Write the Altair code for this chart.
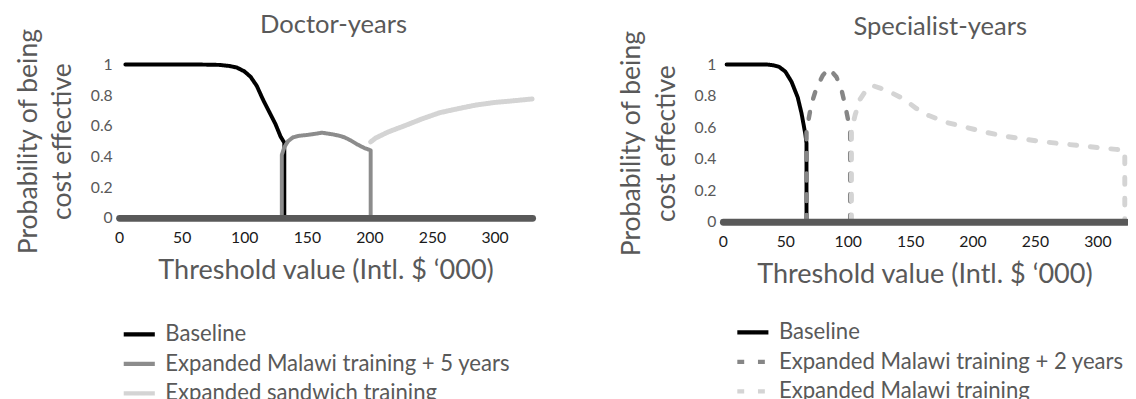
import altair as alt
import pandas as pd

# ---------------- Data ----------------
# Left panel: Doctor-years
doc_names = ["Baseline", "Expanded Malawi training + 5 years", "Expanded sandwich training"]
doc_base_x = [5, 20, 40, 60, 80, 88, 94, 100, 105, 110, 115, 120, 125, 129, 132, 132]
doc_base_y = [1, 1, 1, 1, 0.997, 0.99, 0.98, 0.955, 0.92, 0.86, 0.77, 0.69, 0.61, 0.53, 0.49, 0]
doc_mal5_x = [130, 130, 132, 135, 139, 144, 150, 157, 162, 166, 170, 175, 180, 185, 190, 196, 201, 201]
doc_mal5_y = [0, 0.41, 0.46, 0.5, 0.525, 0.535, 0.54, 0.548, 0.555, 0.55, 0.545, 0.537, 0.525, 0.505, 0.48, 0.455, 0.44, 0]
doc_sand_x = [201, 205, 215, 228, 242, 256, 270, 285, 300, 315, 330]
doc_sand_y = [0.495, 0.52, 0.56, 0.6, 0.645, 0.685, 0.71, 0.735, 0.752, 0.763, 0.775]

# Right panel: Specialist-years
spe_names = ["Baseline", "Expanded Malawi training + 2 years", "Expanded Malawi training"]
spe_base_x = [3, 20, 35, 40, 45, 50, 55, 60, 63, 66, 67, 67]
spe_base_y = [1, 1, 1, 0.995, 0.985, 0.955, 0.89, 0.79, 0.69, 0.56, 0.5, 0]
spe_mal2_x = [67, 67, 71, 75, 80, 85, 91, 95, 98, 100, 102, 102]
spe_mal2_y = [0, 0.58, 0.75, 0.85, 0.93, 0.975, 0.92, 0.84, 0.74, 0.66, 0.58, 0]
spe_mal_x = [103, 103, 106, 110, 115, 120, 126, 135, 145, 155, 165, 180, 195, 210, 225, 240, 255, 270, 285, 300, 315, 322, 322]
spe_mal_y = [0, 0.58, 0.68, 0.78, 0.84, 0.865, 0.85, 0.82, 0.78, 0.72, 0.675, 0.63, 0.6, 0.57, 0.545, 0.527, 0.51, 0.497, 0.485, 0.472, 0.46, 0.455, 0]

x_ticks = [0, 50, 100, 150, 200, 250, 300]
y_ticks = [0, 0.2, 0.4, 0.6, 0.8, 1]

TXT = "#595959"
FONT = "Lato"


def frame(names, xs_list, ys_list, widths):
    rows = []
    for name, xs, ys, w in zip(names, xs_list, ys_list, widths):
        for i, (x, y) in enumerate(zip(xs, ys)):
            rows.append({"series": name, "x": x, "y": y, "i": i, "w": w})
    return pd.DataFrame(rows)


doc_df = frame(doc_names, [doc_base_x, doc_mal5_x, doc_sand_x],
               [doc_base_y, doc_mal5_y, doc_sand_y], [4, 4, 5])
spe_df = frame(spe_names, [spe_base_x, spe_mal2_x, spe_mal_x],
               [spe_base_y, spe_mal2_y, spe_mal_y], [4, 4.5, 5])


def panel(df, names, colors, dashes, title, xmax, width, height,
          sym_size, row_pad, leg_x, leg_y, title_dx):
    xaxis = alt.Axis(values=x_ticks, title="Threshold value (Intl. $ \u2018000)",
                     labelFontSize=16, labelColor="#1a1a1a", labelPadding=12,
                     labelFont=FONT, titleFont=FONT, titleFontSize=27.5,
                     titleFontWeight="normal", titleColor=TXT, titlePadding=12,
                     domainColor="#595959", domainWidth=7, domainCap="round",
                     ticks=False, grid=False, zindex=1, labelFlush=False)
    yaxis = alt.Axis(values=y_ticks, format="~g",
                     title=["Probability of being", "cost effective"],
                     labelFontSize=16, labelColor=TXT, labelPadding=7,
                     labelFont=FONT, titleFont=FONT, titleFontSize=27,
                     titleFontWeight="normal", titleColor=TXT, titlePadding=14,
                     titleLineHeight=35,
                     domain=False, ticks=False, grid=False)
    legend = alt.Legend(title=None, orient="none", legendX=leg_x, legendY=leg_y,
                        direction="vertical", symbolType="stroke",
                        symbolStrokeWidth=4.5, symbolSize=sym_size,
                        labelFont=FONT, labelFontSize=22.5, labelColor=TXT,
                        rowPadding=row_pad, labelOffset=8, labelLimit=600)
    return alt.Chart(df).mark_line(strokeCap="round", strokeJoin="round").encode(
        x=alt.X("x:Q", scale=alt.Scale(domain=[0, xmax], nice=False, zero=True), axis=xaxis),
        y=alt.Y("y:Q", scale=alt.Scale(domain=[0, 1], nice=False), axis=yaxis),
        color=alt.Color("series:N", scale=alt.Scale(domain=names, range=colors), legend=legend),
        strokeDash=alt.StrokeDash("series:N", scale=alt.Scale(domain=names, range=dashes), legend=legend),
        strokeWidth=alt.StrokeWidth("w:Q", scale=None),
        order=alt.Order("i:Q"),
    ).properties(
        width=width, height=height,
        title=alt.TitleParams(title, fontSize=26, font=FONT, fontWeight="normal",
                              color=TXT, offset=-10, dx=title_dx, frame="group"),
    )


left = panel(doc_df, doc_names, ["#000000", "#8c8c8c", "#d4d4d4"],
             [[1, 0], [1, 0], [1, 0]], "Doctor-years", 330, 420, 156,
             1000, -4, 2, 256, 8)
right = panel(spe_df, spe_names, ["#000000", "#868686", "#d4d4d4"],
              [[1, 0], [7, 14], [7, 14]], "Specialist-years", 323, 410, 160,
              1000, -4, 12, 254, 16)

chart = alt.hconcat(left, right, spacing=84).resolve_scale(
    color="independent", strokeDash="independent"
).resolve_legend(
    color="independent", strokeDash="independent"
).properties(
    padding={"left": 6, "top": 0, "right": 0, "bottom": 0}
).configure_view(stroke=None)

chart.save("out.html", embed_options={"renderer": "svg", "actions": False})
